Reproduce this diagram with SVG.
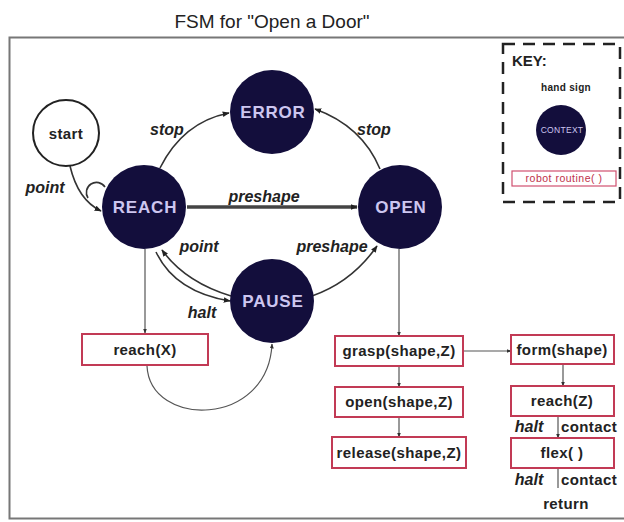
<svg xmlns="http://www.w3.org/2000/svg" width="624" height="522" viewBox="0 0 624 522">
<style>
.st{fill:#130e3c}
.sl{font-family:"Liberation Sans",Arial,sans-serif;font-weight:bold;font-size:17px;letter-spacing:0.8px;fill:#cdc6f0;text-anchor:middle}
.el{font-family:"Liberation Sans",Arial,sans-serif;font-weight:bold;font-style:italic;font-size:16px;fill:#222;text-anchor:middle}
.bx{fill:#fff;stroke:#c23a55;stroke-width:2}
.bt{font-family:"Liberation Sans",Arial,sans-serif;font-weight:bold;font-size:15px;letter-spacing:0.4px;fill:#222;text-anchor:middle}
.ed{fill:none;stroke:#333;stroke-width:1.6}
.th{fill:none;stroke:#555;stroke-width:1.2}
</style>
<defs>
<marker id="ah" viewBox="0 0 10 10" refX="9" refY="5" markerWidth="7" markerHeight="7" orient="auto" markerUnits="userSpaceOnUse">
<path d="M0,1 L10,5 L0,9 z" fill="#222"/>
</marker>
<marker id="as" viewBox="0 0 10 10" refX="9" refY="5" markerWidth="5" markerHeight="5" orient="auto" markerUnits="userSpaceOnUse">
<path d="M0,1 L10,5 L0,9 z" fill="#333"/>
</marker>
</defs>
<rect width="624" height="522" fill="#fff"/>
<text x="272" y="28" font-family="'Liberation Sans',Arial,sans-serif" font-size="19" fill="#222" text-anchor="middle">FSM for "Open a Door"</text>
<rect x="9.5" y="37.5" width="620" height="481" fill="none" stroke="#777" stroke-width="2"/>

<g id="key">
<rect x="503" y="44" width="117" height="158" fill="none" stroke="#222" stroke-width="2.5" stroke-dasharray="12,8"/>
<text x="512" y="66" font-family="'Liberation Sans',Arial,sans-serif" font-weight="bold" font-size="15" fill="#222">KEY:</text>
<text x="566" y="91" font-family="'Liberation Sans',Arial,sans-serif" font-weight="bold" font-size="10" letter-spacing="0.3" fill="#222" text-anchor="middle">hand sign</text>
<circle cx="561" cy="130" r="25" class="st"/>
<text x="562" y="133" font-family="'Liberation Sans',Arial,sans-serif" font-size="8.5" letter-spacing="0.3" fill="#cdc6f0" text-anchor="middle">CONTEXT</text>
<rect x="512" y="171" width="104" height="15" fill="#fff" stroke="#d05070" stroke-width="1.2"/>
<text x="564" y="182" font-family="'Liberation Sans',Arial,sans-serif" font-size="10.5" letter-spacing="0.5" fill="#c0304a" text-anchor="middle">robot routine( )</text>
</g>

<g id="connectors">
<path class="ed" d="M70 166 Q78 200 101 211" marker-end="url(#ah)"/>
<path class="ed" d="M88 198 A10 10 0 1 1 105 187"/>
<path class="ed" d="M160 168 Q183 122 229 113" marker-end="url(#ah)"/>
<path class="ed" d="M380 169 Q362 126 315 109" marker-end="url(#ah)"/>
<path d="M187 207 L357 207" fill="none" stroke="#444" stroke-width="3.5" marker-end="url(#ah)"/>
<path class="ed" d="M231 296 Q185 282 162 250" marker-end="url(#ah)"/>
<path class="ed" d="M156 252 Q175 292 230 301" marker-end="url(#ah)"/>
<path class="ed" d="M312 296 Q352 282 377 246" marker-end="url(#ah)"/>
<path class="th" d="M145 249 L145 333" marker-end="url(#as)"/>
<path class="th" d="M147 366 C150 428 268 428 272 344" marker-end="url(#as)"/>
<path class="th" d="M399 249 L399 336" marker-end="url(#as)"/>
<path class="th" d="M399 366 L399 387" marker-end="url(#as)"/>
<path class="th" d="M399 417 L399 437" marker-end="url(#as)"/>
<path class="th" d="M463 351 L511 351" marker-end="url(#as)"/>
<path class="th" d="M563 364 L563 386" marker-end="url(#as)"/>
<path class="th" d="M558 416 L558 438" marker-end="url(#as)"/>
<path class="th" d="M558 468 L558 488"/>
<text x="45" y="193" class="el">point</text>
<text x="167" y="135" class="el">stop</text>
<text x="374" y="135" class="el">stop</text>
<text x="264" y="202" class="el">preshape</text>
<text x="199" y="252" class="el">point</text>
<text x="332" y="252" class="el">preshape</text>
<text x="202" y="318" class="el">halt</text>
<text x="529" y="432" class="el" font-size="15">halt</text>
<text x="589" y="432" class="bt">contact</text>
<text x="529" y="485" class="el" font-size="15">halt</text>
<text x="589" y="485" class="bt">contact</text>
<text x="566" y="509" class="bt" font-size="14">return</text>
</g>

<g id="start">
<circle cx="66" cy="133" r="33" fill="#fff" stroke="#222" stroke-width="2"/>
<text x="66" y="139" class="bt" font-size="17">start</text>
</g>
<g id="reach">
<circle cx="144" cy="207" r="42" class="st"/>
<text x="145" y="213" class="sl">REACH</text>
</g>
<g id="error">
<circle cx="272" cy="112" r="42" class="st"/>
<text x="273" y="118" class="sl">ERROR</text>
</g>
<g id="open">
<circle cx="400" cy="207" r="42" class="st"/>
<text x="401" y="213" class="sl">OPEN</text>
</g>
<g id="pause">
<circle cx="272" cy="301" r="42" class="st"/>
<text x="273" y="307" class="sl">PAUSE</text>
</g>

<g id="reachX"><rect x="82" y="334" width="126" height="31" class="bx"/><text x="145" y="355" class="bt">reach(X)</text></g>
<g id="grasp"><rect x="335" y="336" width="128" height="30" class="bx"/><text x="399" y="356" class="bt">grasp(shape,Z)</text></g>
<g id="openShape"><rect x="335" y="387" width="128" height="30" class="bx"/><text x="399" y="407" class="bt">open(shape,Z)</text></g>
<g id="release"><rect x="332" y="437" width="134" height="31" class="bx"/><text x="399" y="458" class="bt">release(shape,Z)</text></g>
<g id="form"><rect x="511" y="335" width="103" height="29" class="bx"/><text x="562" y="355" class="bt">form(shape)</text></g>
<g id="reachZ"><rect x="511" y="386" width="103" height="30" class="bx"/><text x="562" y="406" class="bt">reach(Z)</text></g>
<g id="flex"><rect x="511" y="438" width="103" height="30" class="bx"/><text x="562" y="458" class="bt">flex( )</text></g>
</svg>
